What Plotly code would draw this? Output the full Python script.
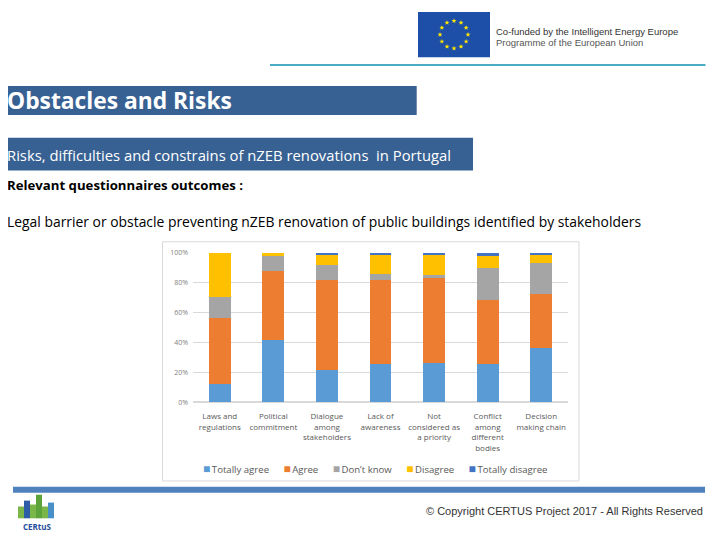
import math
import plotly.graph_objects as go

categories = ["Laws and<br>regulations", "Political<br>commitment", "Dialogue<br>among<br>stakeholders",
              "Lack of<br>awareness", "Not<br>considered as<br>a priority",
              "Conflict<br>among<br>different<br>bodies", "Decision<br>making chain"]
totally_agree = [12, 41.4, 21.7, 25.6, 26.3, 25.6, 36.5]
agree = [44, 46.1, 59.7, 55.8, 56.6, 42.7, 35.7]
dont_know = [14.4, 10.3, 10.5, 4.6, 2.2, 21.4, 20.8]
disagree = [29.6, 2.2, 6.6, 12.7, 13.6, 8.1, 5.5]
totally_disagree = [0, 0, 1.5, 1.3, 1.3, 2.2, 1.5]
series_names = ["Totally agree", "Agree", "Don\u2019t know", "Disagree", "Totally disagree"]
series_colors = ["#5B9BD5", "#ED7D31", "#A5A5A5", "#FFC000", "#4472C4"]
y_ticks = [0, 20, 40, 60, 80, 100]
y_labels = ["0%", "20%", "40%", "60%", "80%", "100%"]

# page has an 8px body margin; figure sized to fit the 720x540 window
OFF = 8
W, H = 720 - OFF, 540 - OFF
def px(x): return (x - OFF) / W
def py(y): return 1 - (y - OFF) / H

fig = go.Figure()
for name, vals, col in zip(series_names, [totally_agree, agree, dont_know, disagree, totally_disagree], series_colors):
    fig.add_trace(go.Bar(x=categories, y=vals, name=name, marker_color=col, marker_line_width=0,
                         showlegend=False))

FONT = "Open Sans"
shapes = []
annotations = []

def rect(x0, x1, y0, y1, color, line=None, layer="above"):
    shapes.append(dict(type="rect", xref="paper", yref="paper", x0=px(x0), x1=px(x1), y0=py(y1), y1=py(y0),
                       line=line or dict(width=0), fillcolor=color, layer=layer))

# chart box
rect(162.5, 579, 240.7, 484, "white", line=dict(color="#D9D9D9", width=1), layer="below")
# title bars
rect(0, 416.7, 82.3, 111.7, "#386193")
rect(0, 473, 135, 168.3, "#386193")
# teal line under header
shapes.append(dict(type="line", xref="paper", yref="paper", x0=px(270), x1=px(705.5), y0=py(61), y1=py(61),
                   line=dict(color="#4BACC6", width=2)))
# EU flag
rect(418, 490, 7, 53, "#1E4FA8")
for i in range(12):
    a = 2 * math.pi * i / 12
    cx, cy = 454 + 14 * math.cos(a), 30 + 14 * math.sin(a)
    pts = []
    for k in range(10):
        r = 2.6 if k % 2 == 0 else 1.1
        b = -math.pi / 2 + k * math.pi / 5
        pts.append((px(cx + r * math.cos(b)), py(cy + r * math.sin(b))))
    path = "M " + " L ".join("%.5f %.5f" % p for p in pts) + " Z"
    shapes.append(dict(type="path", xref="paper", yref="paper", path=path,
                       fillcolor="#FFE600", line=dict(width=0)))
# footer bar
rect(13, 705, 490, 496, "#4F81BD")
# CERtuS logo (simplified buildings)
for (x0, x1, y0, y1, c) in [(18, 24, 510, 522, "#7AB648"), (24, 30, 504, 522, "#2E5DA8"),
                            (30, 36, 508, 522, "#7AB648"), (36, 42, 498, 522, "#5DA33C"),
                            (42, 48, 510, 522, "#7AB648"), (48, 54, 506, 522, "#4A90C8")]:
    rect(x0, x1, y0, y1, c)

def txt(x, y, s, size, color, bold=False, family=FONT, xanchor="left", xshift=0):
    annotations.append(dict(xref="paper", yref="paper", x=px(x), y=py(y), text=("<b>%s</b>" % s) if bold else s,
                            showarrow=False, xanchor=xanchor, yanchor="middle", xshift=xshift, borderpad=0,
                            font=dict(size=size, color=color, family=family)))

txt(495, 27, "Co-funded by the Intelligent Energy Europe", 9.5, "#333333", family="Liberation Sans")
txt(495, 38, "Programme of the European Union", 9.5, "#555555", family="Liberation Sans")
txt(8, 97, "Obstacles and Risks", 22.8, "white", bold=True, xshift=-2)
txt(8, 152, "Risks, difficulties and constrains of nZEB renovations  in Portugal", 14.8, "white", xshift=-2)
txt(8, 183, "Relevant questionnaires outcomes :", 13.2, "black", bold=True, xshift=-2)
txt(8, 220, "Legal barrier or obstacle preventing nZEB renovation of public buildings identified by stakeholders",
    13.9, "black", xshift=-2)
txt(704, 515, "\u00a9 Copyright CERTUS Project 2017 - All Rights Reserved", 11, "#333333",
    family="Liberation Sans", xanchor="right")
txt(37, 530, "CERtuS", 8, "#1F4E9D", bold=True, xanchor="center")

# legend row
legend_text = "\u2002\u2002\u2002".join(
    "<span style='color:%s;font-size:12px'>\u25A0</span>\u2009%s" % (c, n) for n, c in zip(series_names, series_colors))
annotations.append(dict(xref="paper", yref="paper", x=px(375), y=py(471), text=legend_text, showarrow=False,
                        xanchor="center", yanchor="middle", font=dict(size=9.6, color="#595959", family=FONT)))

fig.update_layout(
    width=W, height=H, margin=dict(l=0, r=0, t=0, b=0),
    paper_bgcolor="white", plot_bgcolor="rgba(0,0,0,0)",
    barmode="stack", barnorm="percent", bargap=0.59,
    font=dict(family=FONT, color="#595959"),
    xaxis=dict(domain=[px(193), px(568)], showgrid=False, showline=False, ticks="",
               tickfont=dict(size=8, color="#595959"), ticklabelstandoff=8, fixedrange=True),
    yaxis=dict(domain=[py(404), py(251.7)], range=[0, 100], tickvals=y_ticks, ticktext=y_labels,
               showgrid=True, gridcolor="#D9D9D9", gridwidth=1, zeroline=True, zerolinecolor="#D9D9D9",
               tickfont=dict(size=7, color="#808080"), ticks="", ticklabelstandoff=4),
    shapes=shapes, annotations=annotations, showlegend=False,
)

fig.write_html("out.html")
